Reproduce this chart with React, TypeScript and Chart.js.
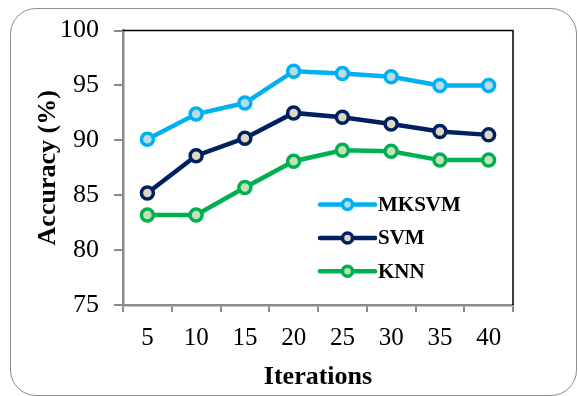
import React, { useEffect, useRef } from "react";
import { Chart, registerables } from "chart.js";

Chart.register(...registerables);

// Iteration counts along the x axis
const iterations = ["5", "10", "15", "20", "25", "30", "35", "40"];

// Accuracy (%) per method
const mksvm = [90.1, 92.4, 93.4, 96.3, 96.1, 95.8, 95.0, 95.0];
const svm = [85.2, 88.6, 90.2, 92.5, 92.1, 91.5, 90.8, 90.5];
const knn = [83.2, 83.2, 85.7, 88.1, 89.1, 89.0, 88.2, 88.2];

const SERIF = "'Liberation Serif', 'Times New Roman', serif";

// Black top and right edges of the plot frame
const frameEdges = {
  id: "frameEdges",
  beforeDatasetsDraw(chart: any) {
    const { ctx, chartArea } = chart;
    ctx.save();
    ctx.strokeStyle = "#000";
    ctx.lineWidth = 1.5;
    ctx.beginPath();
    ctx.moveTo(chartArea.left, chartArea.top);
    ctx.lineTo(chartArea.right, chartArea.top);
    ctx.lineTo(chartArea.right, chartArea.bottom);
    ctx.stroke();
    ctx.restore();
  },
};

// Legend drawn inside the plot area, lower right
const innerLegend = {
  id: "innerLegend",
  afterDatasetsDraw(chart: any, _args: any, opts: any) {
    const { ctx, chartArea } = chart;
    const x0 = chartArea.left + opts.offsetX;
    const lineLen = opts.lineLength;
    ctx.save();
    chart.data.datasets.forEach((ds: any, i: number) => {
      const y = chartArea.top + opts.offsetY + i * opts.rowGap;
      ctx.strokeStyle = ds.borderColor;
      ctx.lineWidth = ds.borderWidth;
      ctx.lineCap = "round";
      ctx.beginPath();
      ctx.moveTo(x0, y);
      ctx.lineTo(x0 + lineLen, y);
      ctx.stroke();
      ctx.beginPath();
      ctx.arc(x0 + lineLen / 2, y, ds.pointRadius - 1, 0, Math.PI * 2);
      ctx.fillStyle = ds.pointBackgroundColor;
      ctx.fill();
      ctx.lineWidth = ds.pointBorderWidth;
      ctx.strokeStyle = ds.borderColor;
      ctx.stroke();
      ctx.fillStyle = "#000";
      ctx.font = `bold ${opts.fontSize}px ${SERIF}`;
      ctx.textAlign = "left";
      ctx.textBaseline = "middle";
      ctx.fillText(ds.label, x0 + lineLen + 3, y + 1);
    });
    ctx.restore();
  },
};

export default function App() {
  const canvasRef = useRef<HTMLCanvasElement | null>(null);

  useEffect(() => {
    if (!canvasRef.current) return;
    const series = (label: string, data: number[], line: string, fill: string) => ({
      label,
      data,
      borderColor: line,
      backgroundColor: line,
      borderWidth: 4.5,
      pointRadius: 6,
      pointBorderWidth: 3.5,
      pointBackgroundColor: fill,
      pointBorderColor: line,
      tension: 0,
    });
    const chart = new Chart(canvasRef.current, {
      type: "line",
      data: {
        labels: iterations,
        datasets: [
          series("MKSVM", mksvm, "#00B0F0", "#B7DEE8"),
          series("SVM", svm, "#002060", "#DDD9C3"),
          series("KNN", knn, "#00B050", "#C3E2B8"),
        ],
      },
      options: {
        responsive: false,
        animation: false,
        layout: { padding: { top: 29, right: 65, left: 0, bottom: 0 } },
        plugins: {
          legend: { display: false },
          tooltip: { enabled: false },
          innerLegend: {
            offsetX: 197,
            offsetY: 174,
            rowGap: 33.3,
            lineLength: 55,
            fontSize: 21,
          },
        } as any,
        scales: {
          x: {
            offset: true,
            grid: {
              offset: true,
              drawOnChartArea: false,
              tickLength: 7,
              color: "#8c8c8c",
              lineWidth: 2,
            },
            border: { color: "#8c8c8c", width: 2.5 },
            ticks: {
              color: "#000",
              padding: 11,
              font: { family: SERIF, size: 25 },
            },
            title: {
              display: true,
              text: "Iterations",
              color: "#000",
              font: { family: SERIF, size: 26, weight: "bold" },
              padding: { top: 0, bottom: 3 },
            },
            afterFit: (s: any) => {
              s.height = 91;
            },
          },
          y: {
            min: 75,
            max: 100,
            ticks: {
              stepSize: 5,
              color: "#000",
              padding: 15,
              font: { family: SERIF, size: 26 },
            },
            grid: {
              drawOnChartArea: false,
              tickLength: 9,
              color: "#8c8c8c",
              lineWidth: 2,
            },
            border: { color: "#8c8c8c", width: 2.5 },
            title: {
              display: true,
              text: "Accuracy (%)",
              color: "#000",
              font: { family: SERIF, size: 26, weight: "bold" },
              padding: { top: 33, bottom: 0 },
            },
            afterFit: (s: any) => {
              s.width = 123;
            },
          },
        },
      } as any,
      plugins: [frameEdges, innerLegend],
    });
    return () => chart.destroy();
  }, []);

  return (
    <div
      style={{
        position: "fixed",
        left: 0,
        top: 0,
        width: 578,
        height: 396,
        background: "#fff",
        overflow: "hidden",
      }}
    >
      <div
        style={{
          position: "absolute",
          left: 10,
          top: 8,
          width: 567,
          height: 388,
          boxSizing: "border-box",
          border: "1.5px solid #8c8c8c",
          borderRadius: 26,
        }}
      />
      <canvas
        ref={canvasRef}
        width={578}
        height={396}
        style={{ position: "absolute", left: 0, top: 0 }}
      />
    </div>
  );
}
